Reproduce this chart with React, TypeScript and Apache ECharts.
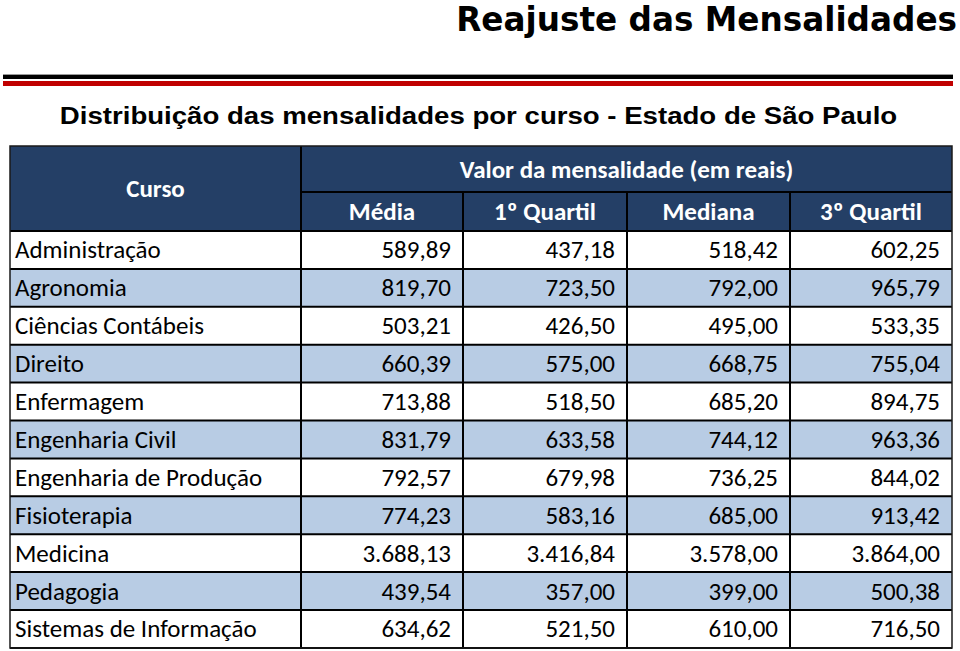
import React, { useEffect, useRef } from "react";
import * as echarts from "echarts";

const pageTitle = "Reajuste das Mensalidades";
const subtitle = "Distribuição das mensalidades por curso - Estado de São Paulo";
const groupHeader = "Valor da mensalidade (em reais)";
const firstHeader = "Curso";
const columnHeaders = ["Média", "1º Quartil", "Mediana", "3º Quartil"];

const cursos = [
  "Administração",
  "Agronomia",
  "Ciências Contábeis",
  "Direito",
  "Enfermagem",
  "Engenharia Civil",
  "Engenharia de Produção",
  "Fisioterapia",
  "Medicina",
  "Pedagogia",
  "Sistemas de Informação",
];
const media = [589.89, 819.7, 503.21, 660.39, 713.88, 831.79, 792.57, 774.23, 3688.13, 439.54, 634.62];
const quartil1 = [437.18, 723.5, 426.5, 575.0, 518.5, 633.58, 679.98, 583.16, 3416.84, 357.0, 521.5];
const mediana = [518.42, 792.0, 495.0, 668.75, 685.2, 744.12, 736.25, 685.0, 3578.0, 399.0, 610.0];
const quartil3 = [602.25, 965.79, 533.35, 755.04, 894.75, 963.36, 844.02, 913.42, 3864.0, 500.38, 716.5];

function fmt(v: number): string {
  const fixed = v.toFixed(2);
  const [intPart, dec] = fixed.split(".");
  const withSep = intPart.replace(/\B(?=(\d{3})+(?!\d))/g, ".");
  return withSep + "," + dec;
}

const BODY_FONT = "Carlito, Lato, 'Liberation Sans', sans-serif";

export default function App() {
  const ref = useRef<HTMLDivElement>(null);
  useEffect(() => {
    document.body.style.margin = "0";
    if (!ref.current) return;
    const chart = echarts.init(ref.current, undefined, { renderer: "svg" });

    const left = 10;
    const right = 952;
    const colX = [left, 301, 463, 627, 790, right];
    const headTop = 146;
    const headMid = 192;
    const headBottom = 231;
    const rowH = 37.9;
    const nRows = cursos.length;
    const tableBottom = headBottom + rowH * nRows;
    const headerColor = "#243F66";
    const altColor = "#B8CCE4";
    const fontSize = 25;

    const elements: any[] = [];

    // Title
    elements.push({
      type: "text",
      x: 957,
      y: 20,
      scaleX: 0.99,
      originX: 0,
      originY: 0,
      style: {
        text: pageTitle,
        font: "bold 33px 'DejaVu Sans', sans-serif",
        lineHeight: 33,
        fill: "#000",
        align: "right",
        verticalAlign: "middle",
      },
    });
    // Rules
    elements.push({ type: "rect", shape: { x: 3, y: 74, width: 950, height: 1 }, style: { fill: "#9a9a9a" } });
    elements.push({ type: "rect", shape: { x: 3, y: 75, width: 950, height: 4 }, style: { fill: "#000" } });
    elements.push({ type: "rect", shape: { x: 3, y: 81, width: 950, height: 5 }, style: { fill: "#C00000" } });

    // Subtitle
    elements.push({
      type: "text",
      x: 478.5,
      y: 116,
      scaleX: 1.15,
      originX: 0,
      originY: 0,
      style: {
        text: subtitle,
        font: "bold 24px 'Liberation Sans', Arial, sans-serif",
        fill: "#000",
        align: "center",
        verticalAlign: "middle",
      },
    });

    // Header background
    elements.push({
      type: "rect",
      shape: { x: left, y: headTop, width: right - left, height: headBottom - headTop },
      style: { fill: headerColor },
    });

    // Row backgrounds
    cursos.forEach((_, i) => {
      elements.push({
        type: "rect",
        shape: { x: left, y: headBottom + i * rowH, width: right - left, height: rowH },
        style: { fill: i % 2 === 1 ? altColor : "#ffffff" },
      });
    });

    // Header texts
    elements.push({
      type: "text",
      x: (colX[0] + colX[1]) / 2,
      y: (headTop + headBottom) / 2,
      style: {
        text: firstHeader,
        font: `bold ${fontSize}px ${BODY_FONT}`,
        fill: "#fff",
        align: "center",
        verticalAlign: "middle",
      },
    });
    elements.push({
      type: "text",
      x: (colX[1] + colX[5]) / 2,
      y: (headTop + headMid) / 2,
      style: {
        text: groupHeader,
        font: `bold ${fontSize}px ${BODY_FONT}`,
        fill: "#fff",
        align: "center",
        verticalAlign: "middle",
      },
    });
    columnHeaders.forEach((h, j) => {
      elements.push({
        type: "text",
        x: (colX[j + 1] + colX[j + 2]) / 2,
        y: (headMid + headBottom) / 2,
        style: {
          text: h,
          font: `bold ${fontSize}px ${BODY_FONT}`,
          fill: "#fff",
          align: "center",
          verticalAlign: "middle",
        },
      });
    });

    // Body texts
    const valueCols = [media, quartil1, mediana, quartil3];
    cursos.forEach((c, i) => {
      const cy = headBottom + i * rowH + rowH / 2;
      elements.push({
        type: "text",
        x: 15,
        y: cy,
        style: {
          text: c,
          font: `${fontSize}px ${BODY_FONT}`,
          fill: "#000",
          align: "left",
          verticalAlign: "middle",
        },
      });
      valueCols.forEach((arr, j) => {
        elements.push({
          type: "text",
          x: colX[j + 2] - 12,
          y: cy,
          style: {
            text: fmt(arr[i]),
            font: `${fontSize}px ${BODY_FONT}`,
            fill: "#000",
            align: "right",
            verticalAlign: "middle",
          },
        });
      });
    });

    // Grid lines
    const lineStyle = { stroke: "#000", lineWidth: 2 };
    for (let i = 0; i <= nRows; i++) {
      const y = headBottom + i * rowH;
      elements.push({ type: "line", shape: { x1: left, y1: y, x2: right, y2: y }, style: lineStyle });
    }
    elements.push({ type: "line", shape: { x1: colX[1], y1: headMid, x2: right, y2: headMid }, style: lineStyle });
    elements.push({ type: "line", shape: { x1: colX[1], y1: headTop, x2: colX[1], y2: tableBottom }, style: lineStyle });
    for (let j = 2; j <= 4; j++) {
      elements.push({ type: "line", shape: { x1: colX[j], y1: headMid, x2: colX[j], y2: tableBottom }, style: lineStyle });
    }
    elements.push({
      type: "rect",
      shape: { x: left, y: headTop, width: right - left, height: tableBottom - headTop },
      style: { fill: "none", stroke: "#1a1a1a", lineWidth: 1.5 },
    });

    chart.setOption({
      animation: false,
      backgroundColor: "#ffffff",
      graphic: { elements },
    });
    return () => chart.dispose();
  }, []);
  return (
    <div
      ref={ref}
      style={{ position: "absolute", left: 0, top: 0, width: 960, height: 651 }}
    />
  );
}
